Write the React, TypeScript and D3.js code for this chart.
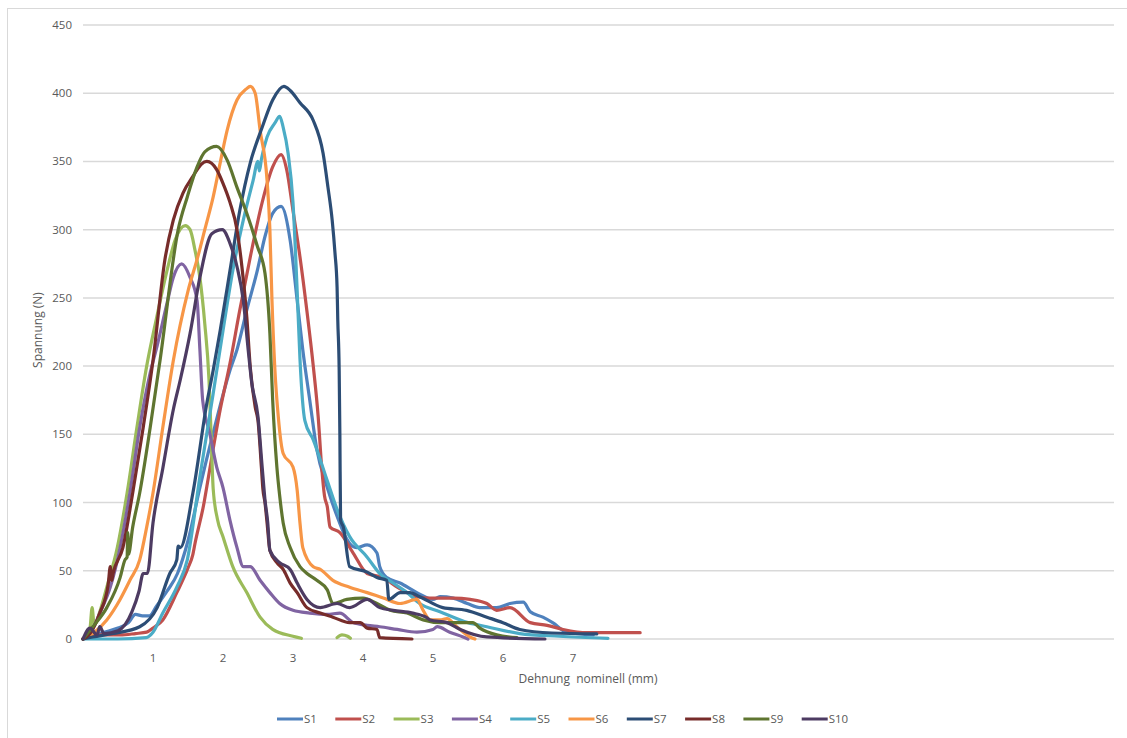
import * as d3 from "d3";

type Pt = [number, number | null];

// Dehnung (mm), Spannung (N)
const s1: Pt[] = [
    [0, 0], [0.1, 2], [0.3, 5], [0.5, 8], [0.65, 12], [0.75, 18], [0.85, 17], [0.95, 17],
    [1.05, 24], [1.2, 35], [1.35, 48], [1.5, 72], [1.67, 111], [1.86, 151], [2.1, 197],
    [2.2, 212], [2.34, 241], [2.49, 270], [2.6, 295], [2.71, 312], [2.83, 317], [2.96, 292],
    [3.06, 248], [3.14, 212], [3.24, 175], [3.34, 139], [3.49, 111], [3.63, 90], [3.75, 75],
    [3.85, 68], [3.91, 67], [4.06, 69], [4.2, 63], [4.24, 53], [4.34, 45], [4.53, 41],
    [4.77, 34], [5.0, 29], [5.1, 31], [5.29, 30], [5.49, 26], [5.67, 23], [5.91, 23],
    [6.1, 26], [6.29, 27], [6.39, 20], [6.57, 16], [6.71, 12], [6.91, 5], [7.29, 3],
];
const s2: Pt[] = [
    [0, 0], [0.2, 3], [0.53, 3], [0.75, 4], [0.91, 5], [1.0, 8], [1.14, 14], [1.34, 34],
    [1.5, 52], [1.57, 62], [1.6, 70], [1.73, 100], [1.77, 112], [1.96, 168], [2.1, 202],
    [2.24, 241], [2.39, 280], [2.56, 320], [2.71, 346], [2.83, 355], [2.91, 344], [3.0, 314],
    [3.1, 280], [3.2, 240], [3.29, 200], [3.36, 163], [3.41, 126], [3.45, 105], [3.49, 97],
    [3.53, 82], [3.67, 78], [3.86, 63], [4.06, 48], [4.29, 45], [4.49, 38], [4.77, 31],
    [4.96, 30], [5.29, 30], [5.53, 29], [5.77, 26], [5.91, 21], [6.1, 23], [6.39, 12],
    [6.63, 10], [6.86, 7], [7.2, 4.6], [7.96, 4.6],
];
const s3: Pt[] = [
    [0, 0], [0.1, 8], [0.13, 23], [0.16, 10], [0.24, 20], [0.34, 38], [0.49, 67], [0.63, 107],
    [0.77, 155], [0.91, 200], [1.05, 235], [1.2, 270], [1.32, 293], [1.46, 303], [1.53, 300],
    [1.6, 285], [1.67, 265], [1.74, 231], [1.8, 190], [1.83, 150], [1.86, 110], [1.92, 88],
    [2.0, 75], [2.14, 53], [2.34, 34], [2.53, 16], [2.71, 7], [3.0, 2], [3.12, 0.5],
    [3.3, null], [3.63, 1], [3.7, 3], [3.78, 2], [3.82, 0.5],
];
const s4: Pt[] = [
    [0, 0], [0.1, 4], [0.24, 19], [0.39, 38], [0.53, 67], [0.67, 107], [0.81, 155], [0.96, 195],
    [1.06, 215], [1.2, 246], [1.29, 265], [1.41, 275], [1.53, 265], [1.63, 248], [1.67, 212],
    [1.71, 175], [1.81, 151], [1.91, 126], [2.0, 111], [2.1, 87], [2.2, 67], [2.29, 53],
    [2.39, 53], [2.53, 43], [2.67, 34], [2.81, 26], [3.0, 21], [3.24, 19], [3.49, 18],
    [3.67, 19], [3.86, 12], [4.06, 10], [4.24, 9], [4.49, 7], [4.77, 5], [5.0, 7], [5.06, 9],
    [5.24, 5], [5.43, 1.5], [5.5, 0],
];
const s5: Pt[] = [
    [0, 0], [0.5, 0], [0.9, 1], [1.0, 5], [1.14, 19], [1.34, 38], [1.49, 58], [1.67, 119],
    [1.86, 180], [2.0, 226], [2.14, 270], [2.29, 307], [2.43, 336], [2.5, 350], [2.52, 343],
    [2.55, 352], [2.63, 368], [2.74, 378], [2.81, 383], [2.86, 375], [2.93, 356], [3.0, 320],
    [3.06, 255], [3.1, 205], [3.17, 160], [3.29, 146], [3.49, 116], [3.63, 95], [3.81, 75],
    [4.06, 60], [4.24, 48], [4.43, 41], [4.63, 34], [4.81, 26], [5.1, 20], [5.5, 12],
    [5.77, 9], [6.24, 4], [6.8, 2], [7.5, 0.5],
];
const s6: Pt[] = [
    [0, 0], [0.14, 4], [0.34, 14], [0.53, 29], [0.67, 43], [0.81, 58], [0.91, 82], [1.0, 107],
    [1.14, 155], [1.29, 204], [1.5, 255], [1.64, 280], [1.74, 300], [1.86, 324], [1.96, 349],
    [2.06, 373], [2.2, 395], [2.33, 403], [2.39, 405], [2.46, 400], [2.53, 373], [2.63, 336],
    [2.67, 300], [2.7, 248], [2.74, 199], [2.79, 163], [2.86, 136], [3.0, 126], [3.06, 109],
    [3.1, 85], [3.14, 67], [3.29, 53], [3.39, 51], [3.57, 43], [3.81, 38], [4.06, 34],
    [4.29, 30], [4.53, 26], [4.77, 29], [4.86, 21], [4.96, 14], [5.1, 14], [5.2, 15],
    [5.34, 9], [5.53, 1.5], [5.6, 0],
];
const s7: Pt[] = [
    [0, 0], [0.14, 1.5], [0.43, 4], [0.81, 9], [1.06, 23], [1.24, 48], [1.34, 58], [1.36, 68],
    [1.39, 67], [1.57, 107], [1.77, 173], [1.86, 197], [1.96, 226], [2.1, 270], [2.24, 314],
    [2.39, 349], [2.56, 375], [2.71, 395], [2.87, 405], [2.96, 402], [3.1, 393], [3.29, 380],
    [3.43, 356], [3.5, 331], [3.56, 307], [3.6, 283], [3.63, 258], [3.64, 234], [3.66, 197],
    [3.67, 150], [3.68, 87], [3.72, 82], [3.81, 53], [4.06, 49], [4.2, 45], [4.34, 43],
    [4.37, 29], [4.53, 34], [4.67, 34], [4.81, 31], [5.14, 23], [5.48, 21], [5.77, 16],
    [6.0, 12], [6.24, 7], [6.7, 4.4], [7.34, 3.7],
];
const s8: Pt[] = [
    [0, 0], [0.1, 4], [0.24, 19], [0.36, 40], [0.39, 53], [0.41, 43], [0.43, 48], [0.57, 67],
    [0.71, 107], [0.86, 155], [1.0, 204], [1.17, 278], [1.29, 307], [1.43, 327], [1.57, 339],
    [1.69, 348], [1.77, 350], [1.91, 344], [2.0, 334], [2.1, 320], [2.2, 300], [2.27, 273],
    [2.34, 236], [2.39, 199], [2.46, 170], [2.5, 160], [2.55, 125], [2.57, 110], [2.6, 100],
    [2.63, 85], [2.67, 65], [2.77, 56], [2.86, 51], [2.96, 41], [3.06, 34], [3.2, 23],
    [3.39, 19], [3.57, 16], [3.81, 12], [3.96, 12], [4.06, 8], [4.2, 7], [4.24, 1], [4.7, 0],
];
const s9: Pt[] = [
    [0, 0], [0.14, 9], [0.34, 23], [0.53, 45], [0.6, 58], [0.63, 60], [0.64, 78], [0.65, 62],
    [0.71, 82], [0.81, 107], [0.96, 155], [1.1, 204], [1.36, 300], [1.49, 324], [1.63, 346],
    [1.74, 357], [1.91, 361], [2.06, 351], [2.2, 331], [2.34, 312], [2.49, 288], [2.6, 268],
    [2.67, 224], [2.71, 175], [2.77, 126], [2.81, 105], [2.86, 85], [2.96, 67], [3.1, 53],
    [3.2, 48], [3.34, 43], [3.49, 36], [3.57, 26], [3.77, 29], [4.0, 30], [4.2, 26],
    [4.39, 21], [4.63, 19], [4.86, 14], [5.1, 12], [5.29, 12], [5.57, 12], [5.67, 8],
    [5.91, 3], [6.2, 1],
];
const s10: Pt[] = [
    [0, 0], [0.1, 8], [0.2, 3], [0.24, 9], [0.3, 4], [0.5, 6], [0.7, 20], [0.8, 35],
    [0.86, 48], [0.92, 48], [1.0, 85], [1.14, 125], [1.29, 168], [1.39, 190], [1.53, 224],
    [1.67, 265], [1.84, 297], [1.99, 300], [2.1, 290], [2.2, 273], [2.29, 248], [2.36, 212],
    [2.41, 188], [2.5, 163], [2.56, 126], [2.6, 102], [2.64, 85], [2.67, 65], [2.81, 56],
    [2.96, 51], [3.06, 41], [3.2, 29], [3.39, 23], [3.63, 26], [3.81, 23], [4.06, 29],
    [4.24, 23], [4.43, 21], [4.71, 19], [4.9, 16], [4.96, 14], [5.2, 12], [5.39, 7],
    [5.77, 1.5], [6.6, 0],
];

const seriesNames = ["S1", "S2", "S3", "S4", "S5", "S6", "S7", "S8", "S9", "S10"];
const seriesData = [s1, s2, s3, s4, s5, s6, s7, s8, s9, s10];
const seriesColors = [
    "#4F81BD", "#C0504D", "#9BBB59", "#8064A2", "#4BACC6",
    "#F79646", "#2C4D75", "#772C2A", "#5F7530", "#4D3B62",
];
const yTicks = [0, 50, 100, 150, 200, 250, 300, 350, 400, 450];
const xTicks = [1, 2, 3, 4, 5, 6, 7];

const font = "'Open Sans', 'Noto Sans', sans-serif";

export default function App() {
    const W = 1127;
    const H = 738;
    const plot = { left: 83, right: 1114, top: 25, bottom: 639 };

    const x = d3.scaleLinear().domain([0, 14.73]).range([plot.left, plot.right]);
    const y = d3.scaleLinear().domain([0, 450]).range([plot.bottom, plot.top]);

    const line = d3
        .line<Pt>()
        .defined((d) => d[1] !== null)
        .x((d) => x(d[0]))
        .y((d) => y(d[1] as number))
        .curve(d3.curveMonotoneX);

    const legendY = 719;
    const legendStart = 277;
    const legendStep = 58.3;

    return (
        <svg
            width={W}
            height={H}
            style={{ position: "absolute", left: 0, top: 0, background: "#fff" }}
            fontFamily={font}
        >
            <rect x={7.5} y={8.5} width={1130} height={740} fill="#fff" stroke="#d9d9d9" />

            {yTicks.map((t) => (
                <g key={`y-${t}`}>
                    <line
                        x1={plot.left}
                        x2={plot.right}
                        y1={y(t)}
                        y2={y(t)}
                        stroke="#d9d9d9"
                        strokeWidth={1.5}
                    />
                    <text
                        x={72}
                        y={y(t)}
                        dy="0.35em"
                        textAnchor="end"
                        fontSize={11.5}
                        fill="#595959"
                    >
                        {t}
                    </text>
                </g>
            ))}

            {xTicks.map((t) => (
                <text
                    key={`x-${t}`}
                    x={x(t)}
                    y={662}
                    textAnchor="middle"
                    fontSize={11.5}
                    fill="#595959"
                >
                    {t}
                </text>
            ))}

            <text
                x={588}
                y={683}
                textAnchor="middle"
                fontSize={12}
                fill="#595959"
                style={{ whiteSpace: "pre" }}
            >
                {"Dehnung  nominell (mm)"}
            </text>
            <text
                transform={`translate(42, 330) rotate(-90)`}
                textAnchor="middle"
                fontSize={12}
                fill="#595959"
            >
                Spannung (N)
            </text>

            <g fill="none" strokeWidth={3.2} strokeLinejoin="round" strokeLinecap="round">
                {seriesData.map((d, i) => (
                    <path key={seriesNames[i]} d={line(d) || undefined} stroke={seriesColors[i]} />
                ))}
            </g>

            {seriesNames.map((name, i) => {
                const lx = legendStart + i * legendStep;
                return (
                    <g key={`leg-${name}`}>
                        <line
                            x1={lx}
                            x2={lx + 26}
                            y1={legendY}
                            y2={legendY}
                            stroke={seriesColors[i]}
                            strokeWidth={3}
                        />
                        <text x={lx + 27} y={legendY + 4} fontSize={11.5} fill="#595959">
                            {name}
                        </text>
                    </g>
                );
            })}
        </svg>
    );
}
